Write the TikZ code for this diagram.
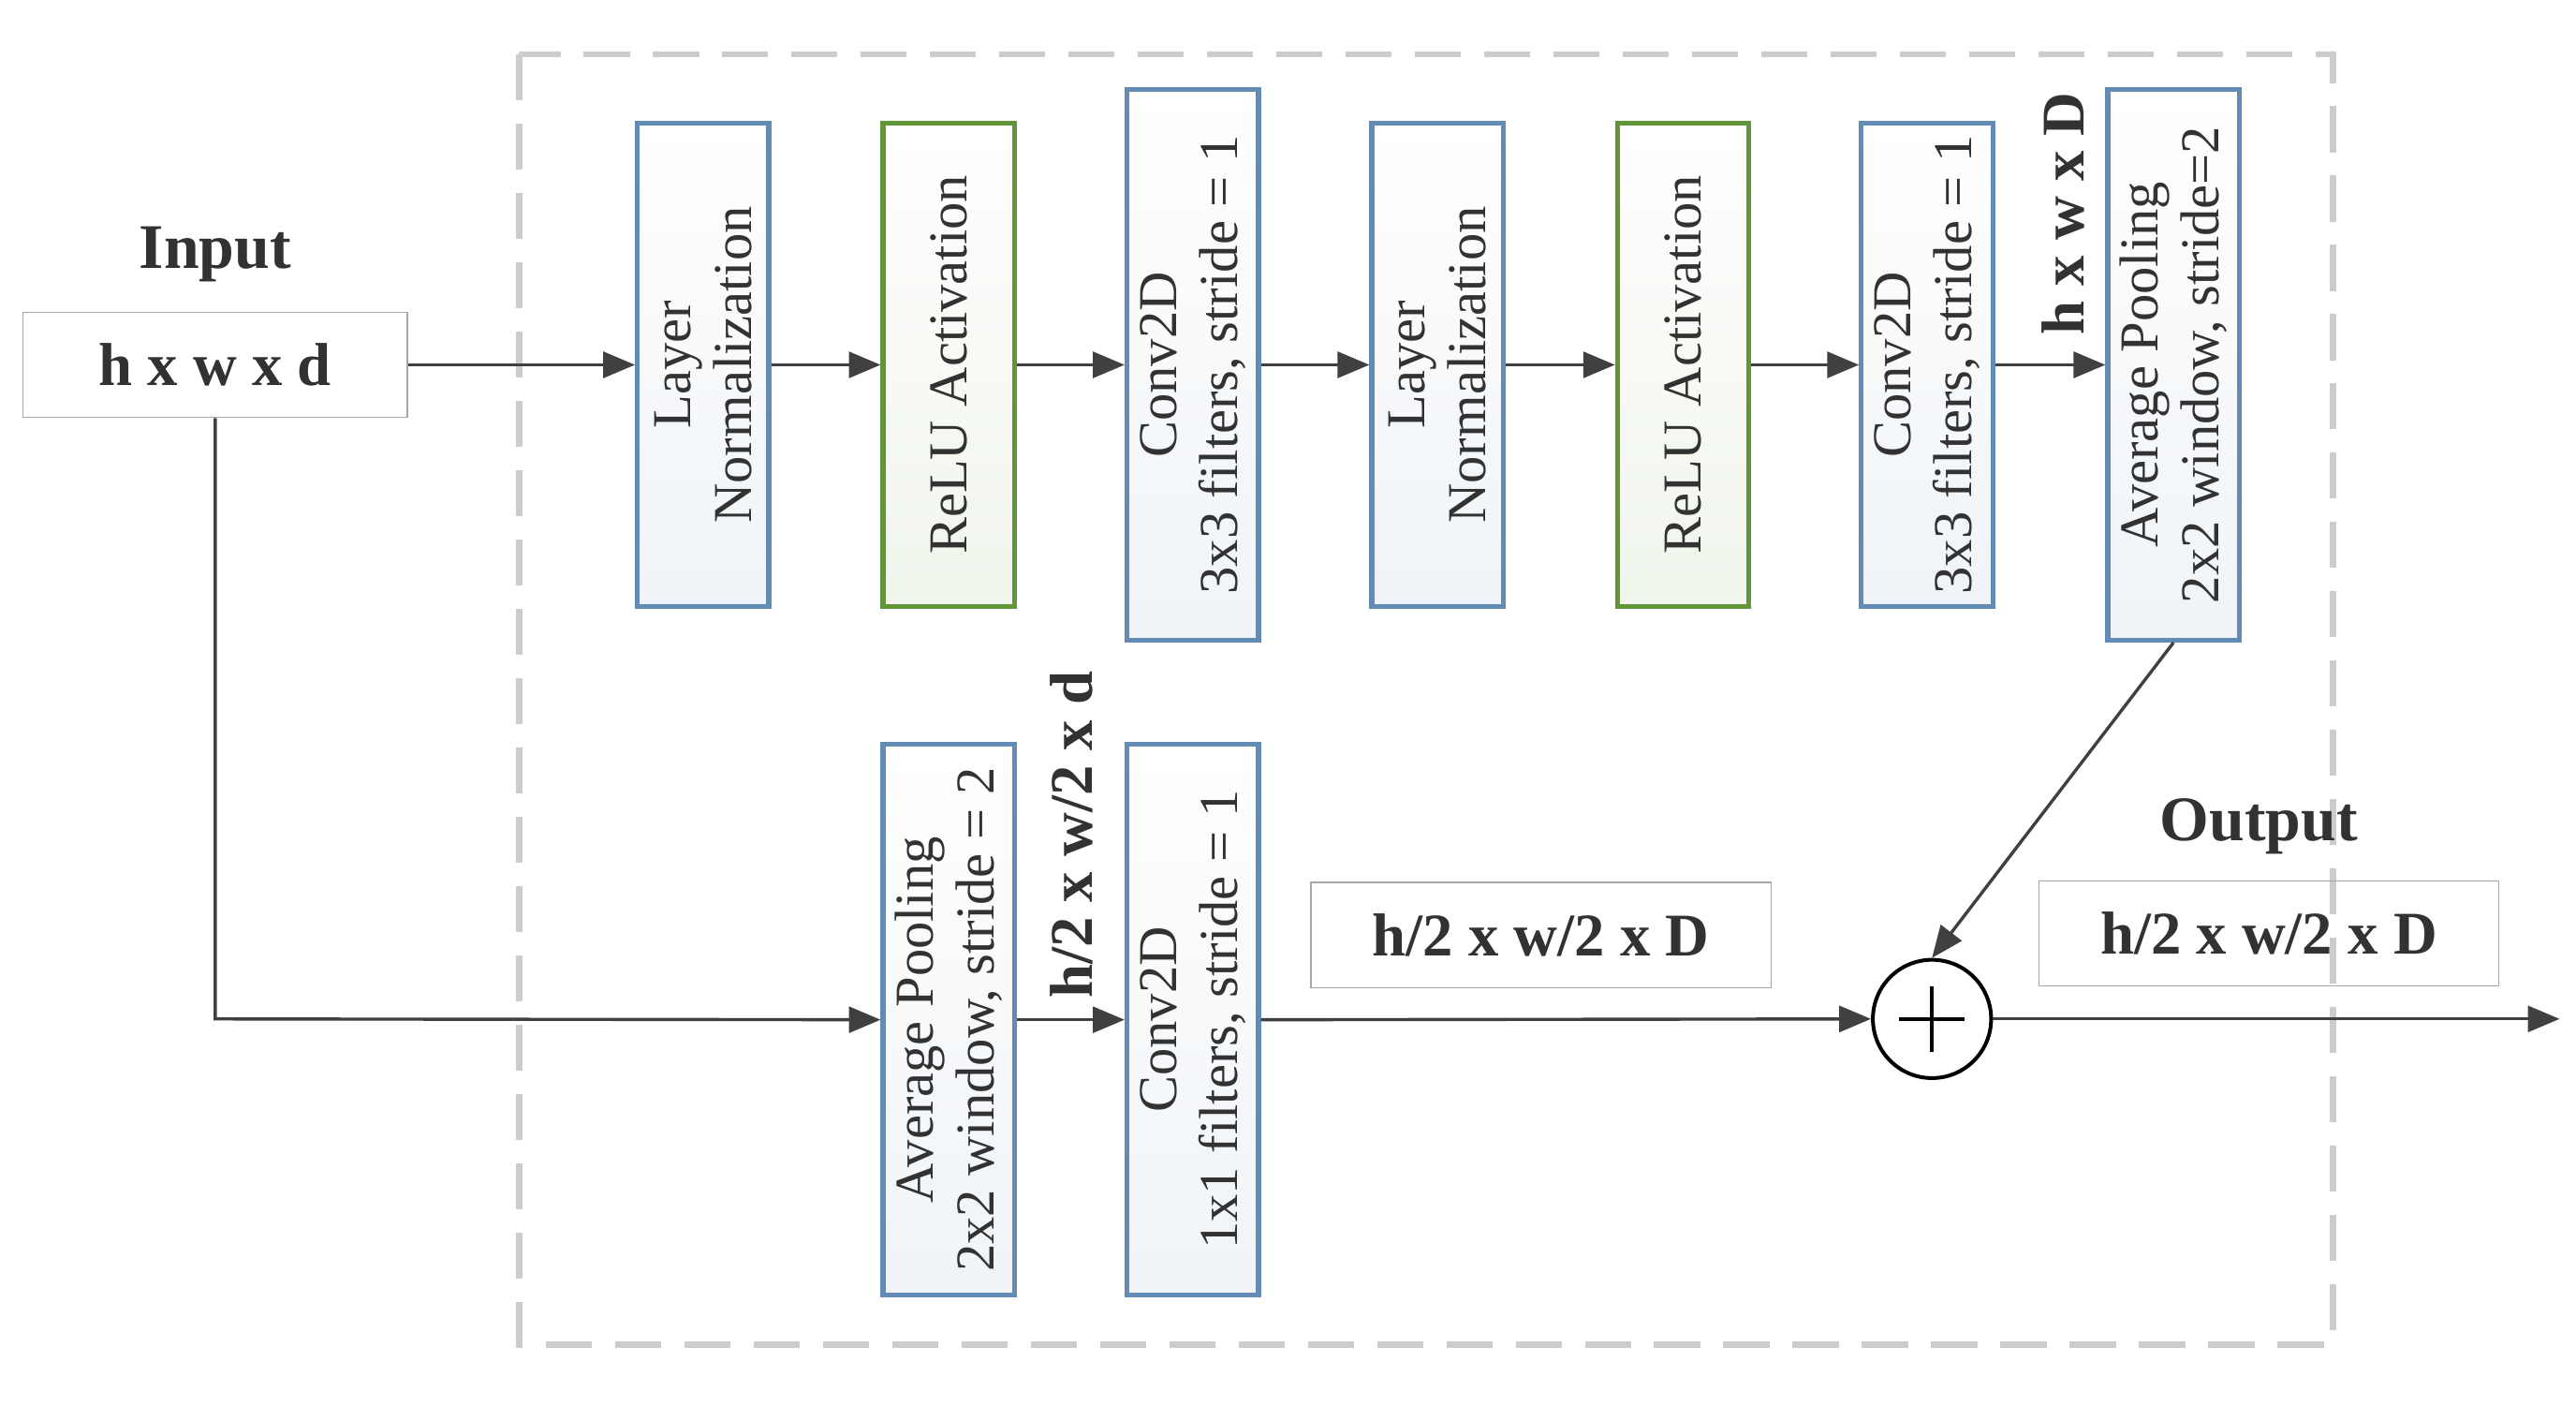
\documentclass[tikz,border=0pt]{standalone}
\usepackage{fontspec}
\setmainfont{Liberation Serif}
\usetikzlibrary{arrows.meta}
\definecolor{bb}{RGB}{98,139,181}
\definecolor{gb}{RGB}{96,150,56}
\definecolor{ar}{RGB}{64,64,64}
\definecolor{tx}{RGB}{50,50,50}
\begin{document}
\begin{tikzpicture}[x=0.02cm,y=-0.02cm,
  font=\fontsize{19}{22}\selectfont, text=tx,
  blk/.style={draw=bb,line width=1.7pt,inner sep=0pt,minimum width=1.6cm,
     top color=white,bottom color=bb!10},
  gblk/.style={blk,draw=gb,bottom color=gb!10},
  short/.style={minimum height=5.88cm},
  tall/.style={minimum height=6.7cm},
  lbl/.style={rotate=90,align=center,font=\fontsize{19}{21}\selectfont},
  dim/.style={draw=gray!70,line width=0.5pt,inner sep=0pt,minimum height=1.28cm,font=\fontsize{21}{24}\selectfont\bfseries},
  arr/.style={draw=ar,line width=1.1pt,-{Triangle[length=11pt,width=9pt]}},
  ln/.style={draw=ar,line width=1.1pt}]
\useasboundingbox (0,0) rectangle (1568,855);
\draw[gray!40,line width=2.2pt,dash pattern=on 16pt off 8pt] (316,33) rectangle (1420,818);
\node[font=\fontsize{22}{24}\selectfont\bfseries] (inl) at (131,155) {Input};
\node[dim,minimum width=4.68cm] (in) at (131,222) {h x w x d};
\node[blk,short] (ln1) at (428,222) {};
\node[lbl] at (ln1.center) {Layer\\Normalization};
\node[gblk,short] (re1) at (577.5,222) {};
\node[lbl] at (re1.center) {ReLU Activation};
\node[blk,tall] (cv1) at (726,222) {};
\node[lbl] at (cv1.center) {Conv2D\\3x3 filters, stride = 1};
\node[blk,short] (ln2) at (875,222) {};
\node[lbl] at (ln2.center) {Layer\\Normalization};
\node[gblk,short] (re2) at (1024.5,222) {};
\node[lbl] at (re2.center) {ReLU Activation};
\node[blk,short] (cv2) at (1173,222) {};
\node[lbl] at (cv2.center) {Conv2D\\3x3 filters, stride = 1};
\node[blk,tall] (ap1) at (1323,222) {};
\node[lbl] at (ap1.center) {Average Pooling\\2x2 window, stride=2};
\node[rotate=90,font=\fontsize{21}{24}\selectfont\bfseries] (d1) at (1256,130) {h x w x D};
\node[blk,tall] (ap2) at (577.5,620.5) {};
\node[lbl] at (ap2.center) {Average Pooling\\2x2 window, stride = 2};
\node[blk,tall] (cv3) at (726,620.5) {};
\node[lbl] at (cv3.center) {Conv2D\\1x1 filters, stride = 1};
\node[rotate=90,font=\fontsize{21}{24}\selectfont\bfseries] (d2) at (652,508) {h/2 x w/2 x d};
\node[dim,minimum width=5.6cm] (d3) at (938,569) {h/2 x w/2 x D};
\node[draw=black,circle,line width=1.3pt,minimum size=1.44cm,inner sep=0pt] (plus) at (1176,620) {};
\draw[line width=1.3pt] (1156,620) -- (1196,620) (1176,600) -- (1176,640);
\node[font=\fontsize{22}{24}\selectfont\bfseries] (outl) at (1375,503) {Output};
\node[dim,minimum width=5.6cm] (out) at (1381,568) {h/2 x w/2 x D};
\coordinate (end) at (1558,620);
\coordinate (corner) at (131,620);
\draw[arr] (in.east) -- (ln1.west);
\draw[arr] (ln1.east) -- (re1.west);
\draw[arr] (re1.east) -- (cv1.west);
\draw[arr] (cv1.east) -- (ln2.west);
\draw[arr] (ln2.east) -- (re2.west);
\draw[arr] (re2.east) -- (cv2.west);
\draw[arr] (cv2.east) -- (ap1.west);
\draw[arr] (in.south) -- (corner) -- (ap2.west);
\draw[arr] (ap2.east) -- (cv3.west);
\draw[arr] (cv3.east) -- (plus.west);
\draw[arr] (ap1.south) -- (plus.north);
\draw[arr] (plus.east) -- (end);
\end{tikzpicture}
\end{document}
